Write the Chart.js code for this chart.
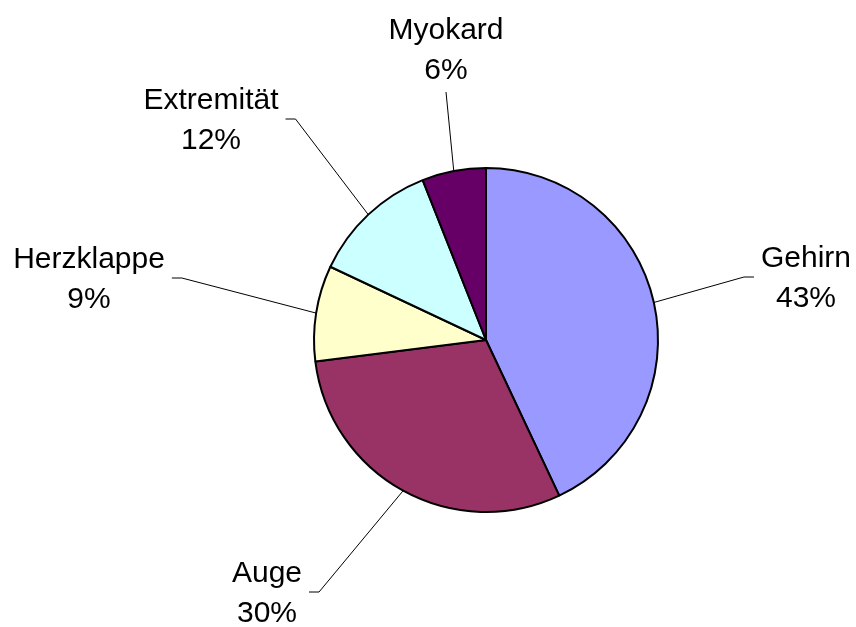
<!DOCTYPE html>
<html>
<head>
<meta charset="utf-8">
<script src="https://cdn.jsdelivr.net/npm/chart.js@4"></script>
<style>
    html, body { margin: 0; padding: 0; background: #fff; }
    #wrap { width: 856px; height: 627px; position: relative; }
</style>
</head>
<body>
<div id="wrap"><canvas id="pieChart"></canvas></div>
<script>
// data
const categories = ["Gehirn", "Auge", "Herzklappe", "Extremität", "Myokard"];
const shares = [43, 30, 9, 12, 6];
const sliceColors = ["#9999FF", "#993366", "#FFFFCC", "#CCFFFF", "#660066"];

// where each label sits, relative to the pie centre (px)
const labelOffsets = [[320, -53], [-219, 262], [-397, -52], [-275, -211], [-40, -281]];

const labelFont = "30px 'Liberation Sans', Arial, sans-serif";

const pieLabels = {
    id: "pieLabels",
    afterDatasetsDraw(chart) {
        const ctx = chart.ctx;
        const arcs = chart.getDatasetMeta(0).data;
        const total = shares.reduce((a, b) => a + b, 0);
        ctx.save();
        ctx.font = labelFont;
        ctx.fillStyle = "#000";
        ctx.strokeStyle = "#000";
        ctx.lineWidth = 1;
        ctx.textAlign = "center";
        ctx.textBaseline = "alphabetic";
        arcs.forEach((arc, i) => {
            const { x, y, startAngle, endAngle, outerRadius } = arc.getProps(["x", "y", "startAngle", "endAngle", "outerRadius"], true);
            const mid = (startAngle + endAngle) / 2;
            const ax = x + Math.cos(mid) * outerRadius;
            const ay = y + Math.sin(mid) * outerRadius;
            const lx = x + labelOffsets[i][0];
            const ly = y + labelOffsets[i][1];
            const line1 = categories[i];
            const line2 = Math.round(shares[i] / total * 100) + "%";
            ctx.fillText(line1, lx, ly - 20);
            ctx.fillText(line2, lx, ly + 20);

            const w = Math.max(ctx.measureText(line1).width, ctx.measureText(line2).width);
            ctx.beginPath();
            if (Math.abs(labelOffsets[i][0]) < outerRadius * 0.5) {
                // label straight above / below: plain line
                const ty = labelOffsets[i][1] < 0 ? ly + 33 : ly - 45;
                ctx.moveTo(lx, ty);
                ctx.lineTo(ax, ay);
            } else {
                const dir = labelOffsets[i][0] > 0 ? -1 : 1;
                const edge = lx + dir * w / 2;
                const hy = ly - 10;
                ctx.moveTo(edge + dir * 7, hy);
                ctx.lineTo(edge + dir * 17, hy);
                ctx.lineTo(ax, ay);
            }
            ctx.stroke();
        });
        ctx.restore();
    }
};

new Chart(document.getElementById("pieChart"), {
    type: "pie",
    data: {
        labels: categories,
        datasets: [{
            data: shares,
            backgroundColor: sliceColors,
            borderColor: "#000",
            borderWidth: 2
        }]
    },
    options: {
        responsive: true,
        maintainAspectRatio: false,
        animation: false,
        layout: { padding: { left: 313, right: 197, top: 167, bottom: 114 } },
        plugins: {
            legend: { display: false },
            tooltip: { enabled: false }
        }
    },
    plugins: [pieLabels]
});
</script>
</body>
</html>
